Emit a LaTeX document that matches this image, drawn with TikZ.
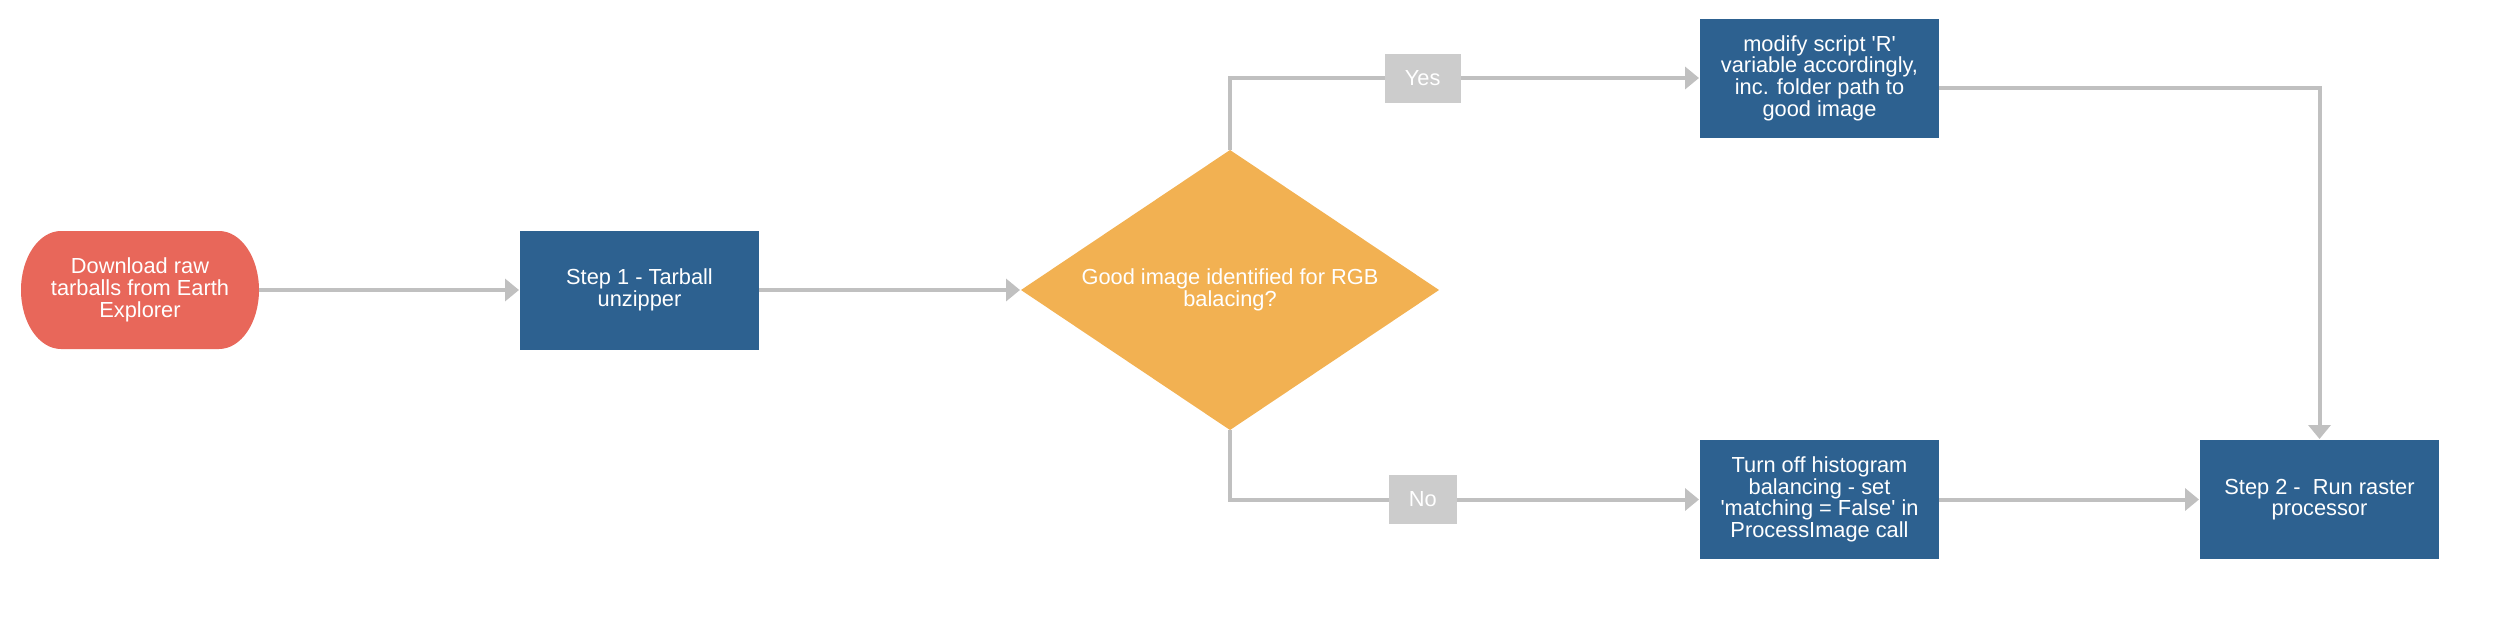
\documentclass[tikz,border=0pt]{standalone}
\usepackage{fontspec}
\setmainfont{Liberation Sans}
\usetikzlibrary{arrows.meta,shapes.geometric,calc}
\pgfdeclarelayer{bg}
\pgfsetlayers{bg,main}
\definecolor{cstart}{HTML}{E8675A}
\definecolor{cblue}{HTML}{2D6190}
\definecolor{corange}{HTML}{F2B152}
\definecolor{cline}{HTML}{C0C0C0}
\definecolor{clabel}{HTML}{CCCCCC}
\tikzset{
  txt/.style={text=white, align=center, font=\fontsize{21.8pt}{21.7pt}\selectfont},
  startbox/.style={txt, minimum width=238pt, minimum height=118pt, inner sep=0pt, outer sep=0pt},
  stepbox/.style={txt, fill=cblue, minimum width=239pt, minimum height=119pt, inner sep=0pt, outer sep=0pt},
  decbox/.style={txt, fill=corange, diamond, aspect=1.493, minimum width=418pt, minimum height=280pt, inner sep=0pt, outer sep=0pt},
  lbl/.style={txt, fill=clabel, minimum height=49pt, inner xsep=20pt, inner ysep=0pt},
  conn/.style={draw=cline, line width=4pt, -{Triangle[length=14pt,width=22pt]}, shorten >=1pt},
}
\begin{document}
\begin{tikzpicture}[x=1pt, y=-1pt]
\useasboundingbox (0,0) rectangle (2496,616);
\node[startbox] (start) at (140,290) {Download raw\\tarballs from Earth\\Explorer};
\begin{pgfonlayer}{bg}
\fill[cstart] ($(start.north west)+(40,0)$) -- ($(start.north east)+(-40,0)$)
  arc[start angle=90, end angle=-90, x radius=40pt, y radius=59pt]
  -- ($(start.south west)+(40,0)$)
  arc[start angle=-90, end angle=-270, x radius=40pt, y radius=59pt] -- cycle;
\end{pgfonlayer}
\node[stepbox] (s1) at (639.5,290) {Step 1 - Tarball\\unzipper};
\node[decbox] (dia) at (1230,290) {Good image identified for RGB\\balacing?};
\node[stepbox] (mod) at (1819.5,78) {modify script \textquotesingle R\textquotesingle\\variable accordingly,\\inc. folder path to\\good image};
\node[stepbox] (off) at (1819.5,499.5) {Turn off histogram\\balancing - set\\\textquotesingle matching = False\textquotesingle\ in\\ProcessImage call};
\node[stepbox] (s2) at (2319.5,499.5) {Step 2 -\ \ Run raster\\processor};
\draw[conn] (start.east) -- (s1.west);
\draw[conn] (s1.east) -- (dia.west);
\draw[conn] (dia.north) |- node[lbl, pos=0.705] (yes) {Yes} (mod.west);
\draw[conn] (dia.south) |- node[lbl, pos=0.705] (no) {No} (off.west);
\draw[conn] ($(mod.east)+(0,10)$) -| (s2.north);
\draw[conn] (off.east) -- (s2.west);
\end{tikzpicture}
\end{document}
